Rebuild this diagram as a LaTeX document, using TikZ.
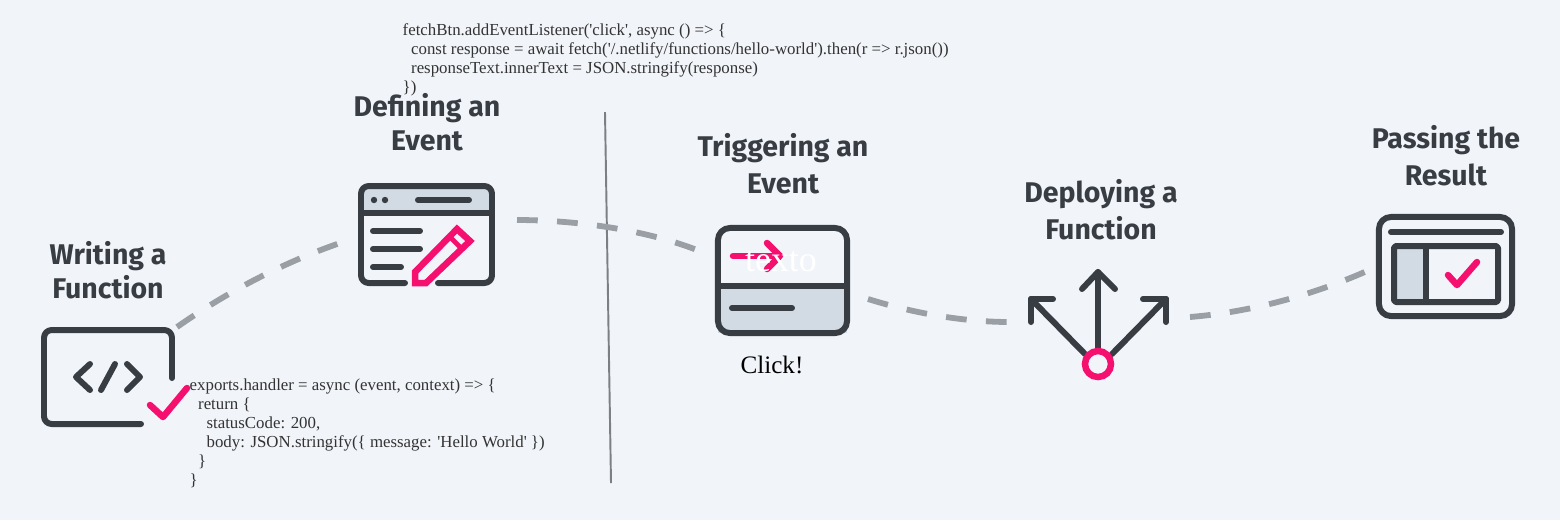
\documentclass[tikz,border=0pt]{standalone}
\usepackage{fontspec}
\newfontfamily\titlefont{Fira Sans}
\newfontfamily\codefont{Liberation Serif}
\usepackage{tikz}
\definecolor{pagebg}{HTML}{F1F4F9}
\definecolor{icondark}{HTML}{373D43}
\definecolor{iconpink}{HTML}{F50F6E}
\definecolor{panelgray}{HTML}{D2DAE3}
\definecolor{flowgray}{HTML}{9A9FA5}
\definecolor{rulegray}{HTML}{7C7F84}
\tikzset{
    x=0.01cm, y=-0.01cm,
    titletext/.style={font=\titlefont\bfseries\fontsize{8.1}{10}\selectfont, text=icondark, align=center},
    codetext/.style={font=\codefont\fontsize{4.79}{5.4}\selectfont, text=black!80, align=left, anchor=north west, inner sep=0pt},
    iconline/.style={draw=icondark, line width=1.7pt, line cap=round, line join=round},
    pinkline/.style={draw=iconpink, line width=1.85pt, line cap=round, line join=round},
    flowline/.style={draw=flowgray, line width=1.65pt, dash pattern=on 5.9pt off 5.5pt},
}
\begin{document}
\begin{tikzpicture}
    % Background
    \fill[pagebg] (0,0) rectangle (1560,520);
    \useasboundingbox (0,0) rectangle (1560,520);

    % Define titles
    \node[titletext] (writeTitle) at (108,270) {Writing a\\[-0.3pt]Function};
    \node[titletext] (defineTitle) at (427,122) {Defining an\\[-0.3pt]Event};
    \node[titletext] (triggerTitle) at (783,164) {Triggering an\\[0.5pt]Event};
    \node[titletext] (deployTitle) at (1101,210) {Deploying a\\[0.5pt]Function};
    \node[titletext] (passTitle) at (1446,156) {Passing the\\[0.5pt]Result};

    % Add code
    \node[codetext] (fetchCode) at (402,23) {fetchBtn.addEventListener(\textquotesingle click\textquotesingle, async () => \{\\
        \hspace*{2.4pt}const response = await fetch(\textquotesingle/.netlify/functions/hello-world\textquotesingle).then(r => r.json())\\
        \hspace*{2.4pt}responseText.innerText = JSON.stringify(response)\\
        \})};
    \node[codetext] (handlerCode) at (189,378) {exports.handler = async (event, context) => \{\\
        \hspace*{2.4pt}return \{\\
        \hspace*{4.8pt}statusCode: 200,\\
        \hspace*{4.8pt}body: JSON.stringify(\{ message: \textquotesingle Hello World\textquotesingle\ \})\\
        \hspace*{2.4pt}\}\\
        \}};

    % Divider
    \draw[rulegray, line width=0.55pt] (605,112) -- (611,483);

    % Writing icon
    \draw[iconline, rounded corners=2.2pt] (172,378) -- (172,330) -- (44,330) -- (44,424) -- (141,424);
    \draw[iconline] (90,364) -- (76,377) -- (90,390);
    \draw[iconline] (115,364) -- (101,390);
    \draw[iconline] (127,364) -- (140,377) -- (127,390);
    \draw[pinkline] (150,405) -- (163,417) -- (187,388);

    % Defining icon
    \fill[panelgray, rounded corners=2.2pt] (361,213) -- (361,186) -- (492,186) -- (492,213) -- cycle;
    \draw[iconline, rounded corners=2.2pt] (405,283) -- (361,283) -- (361,186) -- (492,186) -- (492,283) -- (438,283);
    \draw[iconline] (361,213) -- (492,213);
    \fill[icondark] (374,200) circle (3.2) (385,200) circle (3.2);
    \draw[iconline] (418,200) -- (469,200);
    \draw[iconline] (373,231) -- (420,231);
    \draw[iconline] (373,249) -- (420,249);
    \draw[iconline] (373,267) -- (401,267);
    \draw[pinkline, line cap=butt, line join=miter] (415,283) -- (415,272) -- (457,229) -- (470,241) -- (426,283) -- cycle;
    \draw[draw=iconpink, line width=1.4pt] (449,236) -- (462,249);

    % Triggering icon
    \fill[panelgray] (718,286) rectangle (847,333);
    \draw[iconline] (718,286) -- (847,286);
    \draw[iconline] (732,308) -- (792,308);
    \node[iconline, rounded corners=3.4pt, minimum width=1.29cm, minimum height=1.05cm, inner sep=0pt] (triggerBox) at (782.5,280.5) {};
    \draw[pinkline] (733,256) -- (780,256);
    \draw[pinkline] (767,243) -- (780,256) -- (767,269);
    \node[font=\codefont\fontsize{10.2}{12}\selectfont, text=white] (triggerWord) at (781,262) {texto};
    \node[font=\codefont\fontsize{7.15}{9}\selectfont, text=black] (clickWord) at (772,365) {Click!};

    % Deploying icon
    \draw[iconline] (1098,350) -- (1098,272);
    \draw[iconline] (1082,289) -- (1098,272) -- (1115,289);
    \draw[iconline] (1085,354) -- (1031,299);
    \draw[iconline] (1053,299) -- (1031,299) -- (1031,322);
    \draw[iconline] (1112,354) -- (1166,299);
    \draw[iconline] (1143,299) -- (1166,299) -- (1166,322);
    \node[draw=iconpink, line width=1.85pt, circle, inner sep=0pt, minimum size=0.26cm] (deployDot) at (1098,364) {};

    % Passing icon
    \node[iconline, rounded corners=3.4pt, minimum width=1.33cm, minimum height=0.99cm, inner sep=0pt] (passBox) at (1445.5,266.5) {};
    \draw[iconline] (1391,232) -- (1501,232);
    \fill[panelgray] (1394,246) rectangle (1426,302);
    \draw[iconline, rounded corners=0.5pt] (1394,246) rectangle (1498,302);
    \draw[iconline] (1426,246) -- (1426,302);
    \draw[pinkline] (1448,275) -- (1457,285) -- (1477,262);

    % Connector ends
    \coordinate (writeEnd) at (177,327);
    \coordinate (defineIn) at (340,243);
    \coordinate (defineOut) at (517,220);
    \coordinate (triggerIn) at (697,250);
    \coordinate (triggerOut) at (868,299);
    \coordinate (deployIn) at (1010,322);
    \coordinate (deployOut) at (1190,317);
    \coordinate (passIn) at (1367,271);

    % Draw connectors
    \draw[flowline] (writeEnd) .. controls (230,290) and (285,262) .. (defineIn);
    \draw[flowline] (defineOut) .. controls (570,220) and (640,228) .. (triggerIn);
    \draw[flowline] (triggerOut) .. controls (910,312) and (960,322) .. (deployIn);
    \draw[flowline] (deployOut) .. controls (1250,312) and (1310,296) .. (passIn);
\end{tikzpicture}
\end{document}
